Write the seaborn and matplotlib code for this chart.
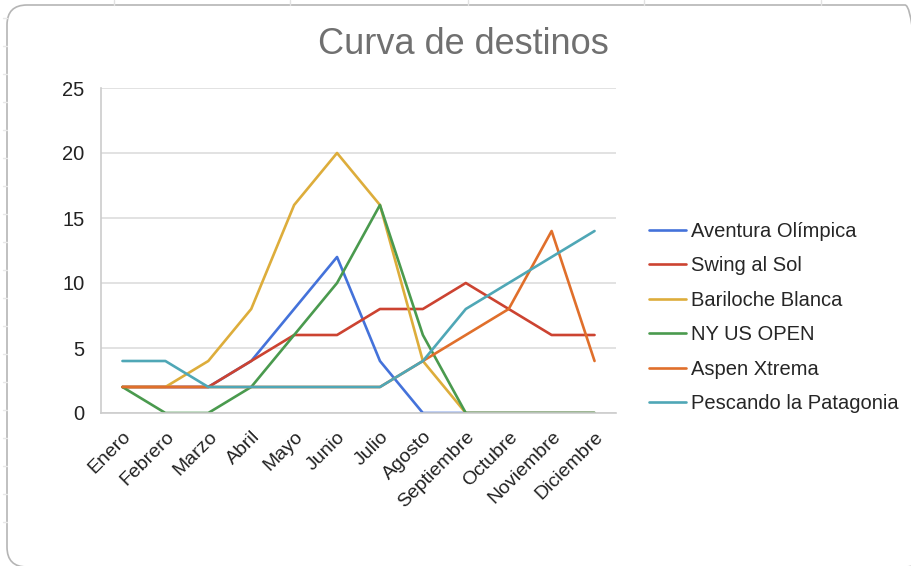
import seaborn as sns
import matplotlib.pyplot as plt
from matplotlib.patches import FancyBboxPatch
from matplotlib.lines import Line2D
import pandas as pd

meses = ['Enero', 'Febrero', 'Marzo', 'Abril', 'Mayo', 'Junio', 'Julio',
         'Agosto', 'Septiembre', 'Octubre', 'Noviembre', 'Diciembre']

aventura_olimpica = [2, 2, 2, 4, 8, 12, 4, 0, 0, 0, 0, 0]
swing_al_sol = [2, 2, 2, 4, 6, 6, 8, 8, 10, 8, 6, 6]
bariloche_blanca = [2, 2, 4, 8, 16, 20, 16, 4, 0, 0, 0, 0]
ny_us_open = [2, 0, 0, 2, 6, 10, 16, 6, 0, 0, 0, 0]
aspen_xtrema = [2, 2, 2, 2, 2, 2, 2, 4, 6, 8, 14, 4]
pescando_patagonia = [4, 4, 2, 2, 2, 2, 2, 4, 8, 10, 12, 14]

series = {
    'Aventura Olímpica': aventura_olimpica,
    'Swing al Sol': swing_al_sol,
    'Bariloche Blanca': bariloche_blanca,
    'NY US OPEN': ny_us_open,
    'Aspen Xtrema': aspen_xtrema,
    'Pescando la Patagonia': pescando_patagonia,
}
colores = ['#4472DA', '#CC4331', '#DDAD3B', '#4A9A4E', '#E06F2B', '#4FA7B6']

rows = []
for nombre, valores in series.items():
    for mes, v in zip(meses, valores):
        rows.append({'mes': mes, 'valor': v, 'destino': nombre})
df = pd.DataFrame(rows)

sns.set_style('white')
plt.rcParams['font.family'] = ['Liberation Sans', 'DejaVu Sans']

W, H = 911, 566
fig = plt.figure(figsize=(W / 100, H / 100), dpi=100)
ax = fig.add_axes([101 / W, 1 - 413 / H, 515 / W, 325 / H])

# restos de la cuadricula de la hoja de calculo
for xp in [114, 290, 468, 644, 821]:
    fig.add_artist(Line2D([xp / W, xp / W], [1, 1 - 5 / H], color='#E2E2E2',
                          linewidth=1, transform=fig.transFigure))
for yp in range(18, 550, 28):
    fig.add_artist(Line2D([3 / W, 7 / W], [1 - yp / H, 1 - yp / H], color='#E8E8E8',
                          linewidth=1, transform=fig.transFigure))

# marco redondeado (sale por la derecha)
marco = FancyBboxPatch((7, -1), 918, 562, boxstyle='round,pad=0,rounding_size=20',
                       transform=None, facecolor='none',
                       edgecolor='#B5B5B5', linewidth=1.2)
fig.patches.append(marco)

sns.lineplot(data=df, x='mes', y='valor', hue='destino', palette=colores,
             linewidth=1.9, ax=ax, sort=False)

ax.set_xlim(-0.5, 11.5)
ax.set_ylim(0, 25)
ax.set_yticks([0, 5, 10, 15, 20, 25])
ax.grid(axis='y', color='#DDDDDD', linewidth=1.2)
ax.set_axisbelow(True)
ax.set_xlabel('')
ax.set_ylabel('')
for s in ['top', 'right']:
    ax.spines[s].set_visible(False)
for s in ['left', 'bottom']:
    ax.spines[s].set_color('#CCCCCC')
    ax.spines[s].set_linewidth(1.2)
ax.tick_params(axis='both', length=0, colors='#222222')
ax.tick_params(axis='y', labelsize=14.5, pad=12)
ax.tick_params(axis='x', labelsize=14, pad=11)
plt.setp(ax.get_xticklabels(), rotation=45, ha='right', rotation_mode='anchor')

ax.legend(loc='center left', bbox_to_anchor=(1.029, 0.294), frameon=False,
          fontsize=14.5, handlelength=1.84, handletextpad=0.25, labelspacing=0.77)

fig.text(463 / W, 1 - 44 / H, 'Curva de destinos', ha='center', va='center',
         fontsize=26, color='#707070')

fig.savefig('out.png', dpi=100)
